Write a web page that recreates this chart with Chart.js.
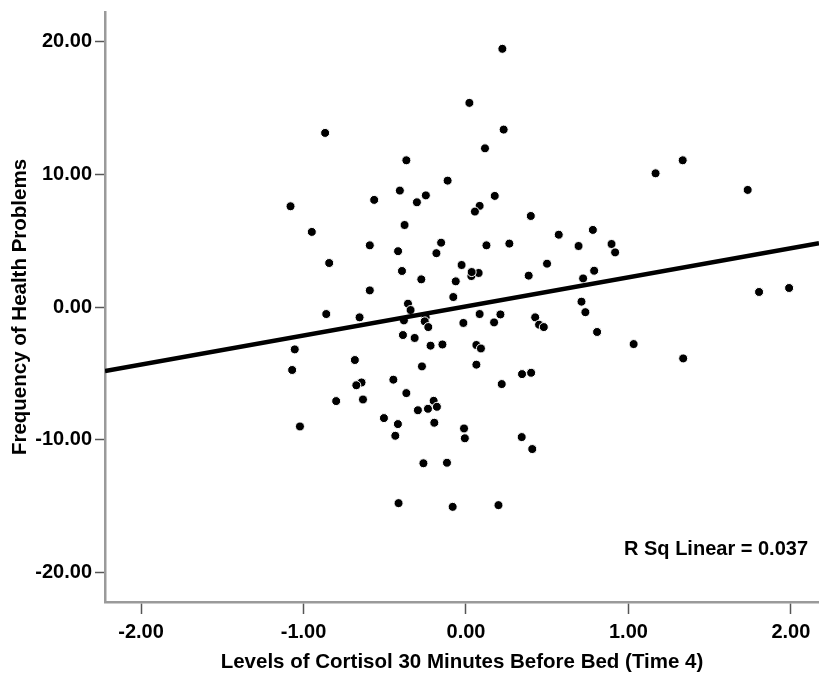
<!DOCTYPE html>
<html lang="en">
<head>
    <meta charset="UTF-8">
    <title>Cortisol vs Health Problems</title>
    <script src="https://cdn.jsdelivr.net/npm/chart.js"></script>
    <style>
        html, body {
            margin: 0;
            padding: 0;
            background: #ffffff;
        }
        .wrap {
            width: 819px;
            height: 675px;
        }
        canvas {
            display: block;
        }
    </style>
</head>
<body>
    <div class="wrap">
        <canvas id="scatterChart"></canvas>
    </div>

    <script>
        // Cortisol level (x) and health problems (y)
        const cortisol = [
            0.224, 0.021, -0.867, 0.232, 0.117, -0.367, -0.113, -0.407, -0.565, -0.247,
            -0.302, 0.084, 0.055, 0.177, -1.080, -0.949, -0.378, 0.399, 0.571, -0.592,
            -0.153, 0.126, 0.267, -0.418, -0.182, 1.167, 1.334, 1.734, 0.781, 0.693,
            0.896, 0.918, 0.499, 0.789, 0.721, 1.804, 1.989, 0.711, 0.735, 0.807,
            1.032, 1.337, -0.842, -0.592, -0.860, -0.655, -1.054, -1.070, -0.684, -0.643,
            -0.675, -0.799, -0.634, -1.022, -0.505, -0.394, -0.275, -0.027, 0.033, 0.078,
            0.035, -0.063, 0.386, -0.078, -0.357, -0.341, -0.382, -0.248, -0.254, -0.232,
            -0.016, 0.084, 0.173, 0.212, 0.426, 0.450, 0.479, -0.388, -0.316, -0.218,
            -0.145, 0.064, 0.092, -0.271, 0.064, -0.447, -0.367, 0.345, 0.401, 0.220,
            -0.199, -0.179, -0.234, -0.296, -0.419, -0.195, -0.435, -0.012, -0.007, 0.343,
            0.408, -0.262, -0.117, -0.415, -0.082, 0.200
        ];
        const healthProblems = [
            19.43, 15.36, 13.10, 13.35, 11.94, 11.04, 9.51, 8.76, 8.06, 8.40,
            7.88, 7.61, 7.18, 8.36, 7.58, 5.65, 6.17, 6.85, 5.44, 4.64,
            4.84, 4.64, 4.77, 4.20, 4.05, 10.06, 11.04, 8.81, 5.80, 4.59,
            4.74, 4.11, 3.26, 2.73, 2.15, 1.13, 1.43, 0.40, -0.39, -1.88,
            -2.79, -3.87, 3.31, 1.25, -0.53, -0.78, -3.19, -4.74, -3.99, -5.68,
            -5.89, -7.08, -6.96, -8.99, -8.36, 2.71, 2.08, 3.16, 2.33, 2.56,
            2.63, 1.93, 2.36, 0.75, 0.25, -0.23, -1.01, -0.78, -1.08, -1.51,
            -1.20, -0.53, -1.16, -0.56, -0.78, -1.33, -1.51, -2.11, -2.33, -2.91,
            -2.82, -2.86, -3.12, -4.47, -4.34, -5.47, -6.48, -5.05, -4.95, -5.80,
            -7.06, -7.51, -7.66, -7.77, -8.81, -8.71, -9.69, -9.14, -9.88, -9.79,
            -10.69, -11.76, -11.72, -14.76, -15.04, -14.91
        ];

        // Linear fit line, ends at the plot edges
        const fitX = [-2.222, 2.173];
        const fitY = [-4.82, 4.80];

        // Axis ranges and ticks
        const xRange = [-2.222, 2.173];
        const yRange = [-22.2, 22.2];
        const xTicks = [-2, -1, 0, 1, 2];
        const yTicks = [-20, -10, 0, 10, 20];

        const xTitle = 'Levels of Cortisol 30 Minutes Before Bed (Time 4)';
        const yTitle = 'Frequency of Health Problems';
        const rsqText = 'R Sq Linear = 0.037';

        const FONT = "'Liberation Sans', Arial, sans-serif";

        const scatterPoints = cortisol.map((x, i) => ({ x: x, y: healthProblems[i] }));
        const fitPoints = fitX.map((x, i) => ({ x: x, y: fitY[i] }));

        // R squared label in the lower right of the plot
        const rsqLabel = {
            id: 'rsqLabel',
            afterDraw(chart) {
                const { ctx, chartArea } = chart;
                ctx.save();
                ctx.font = 'bold 20px ' + FONT;
                ctx.fillStyle = '#000';
                ctx.textAlign = 'right';
                ctx.textBaseline = 'middle';
                ctx.fillText(rsqText, chartArea.right - 11, chartArea.bottom - 53);
                ctx.restore();
            }
        };

        const ctx = document.getElementById('scatterChart').getContext('2d');
        new Chart(ctx, {
            type: 'scatter',
            data: {
                datasets: [
                    {
                        type: 'line',
                        label: 'Linear fit',
                        data: fitPoints,
                        borderColor: '#000',
                        borderWidth: 4.5,
                        pointRadius: 0,
                        fill: false,
                        order: 0
                    },
                    {
                        label: 'Cases',
                        data: scatterPoints,
                        backgroundColor: '#000',
                        borderColor: '#fff',
                        borderWidth: 1,
                        pointRadius: 4.5,
                        order: 1
                    }
                ]
            },
            options: {
                responsive: true,
                maintainAspectRatio: false,
                animation: false,
                layout: {
                    autoPadding: false,
                    padding: { top: 12, right: 0, bottom: 0, left: 0 }
                },
                plugins: {
                    legend: { display: false },
                    tooltip: { enabled: false }
                },
                scales: {
                    x: {
                        type: 'linear',
                        min: xRange[0],
                        max: xRange[1],
                        afterBuildTicks: scale => {
                            scale.ticks = xTicks.map(v => ({ value: v }));
                        },
                        afterFit: scale => {
                            scale.height = 73;
                            scale.paddingLeft = 0;
                            scale.paddingRight = 0;
                        },
                        border: { display: true, color: '#9a9a9a', width: 2.5 },
                        grid: {
                            drawOnChartArea: false,
                            drawTicks: true,
                            tickLength: 12,
                            tickColor: '#555',
                            tickWidth: 1.5
                        },
                        ticks: {
                            color: '#000',
                            padding: 6,
                            font: { family: FONT, size: 20, weight: 'bold' },
                            callback: v => v.toFixed(2)
                        },
                        title: {
                            display: true,
                            text: xTitle,
                            color: '#000',
                            padding: { top: -2, bottom: 0 },
                            font: { family: FONT, size: 20.5, weight: 'bold' }
                        }
                    },
                    y: {
                        type: 'linear',
                        min: yRange[0],
                        max: yRange[1],
                        afterBuildTicks: scale => {
                            scale.ticks = yTicks.map(v => ({ value: v }));
                        },
                        afterFit: scale => {
                            scale.width = 105;
                            scale.paddingTop = 0;
                            scale.paddingBottom = 0;
                        },
                        border: { display: true, color: '#9a9a9a', width: 2.5 },
                        grid: {
                            drawOnChartArea: false,
                            drawTicks: true,
                            tickLength: 10,
                            tickColor: '#555',
                            tickWidth: 1.5
                        },
                        ticks: {
                            color: '#000',
                            padding: 3,
                            font: { family: FONT, size: 20, weight: 'bold' },
                            callback: v => v.toFixed(2)
                        },
                        title: {
                            display: true,
                            text: yTitle,
                            color: '#000',
                            padding: { top: 8, bottom: 0 },
                            font: { family: FONT, size: 20.5, weight: 'bold' }
                        }
                    }
                }
            },
            plugins: [rsqLabel]
        });
    </script>
</body>
</html>
